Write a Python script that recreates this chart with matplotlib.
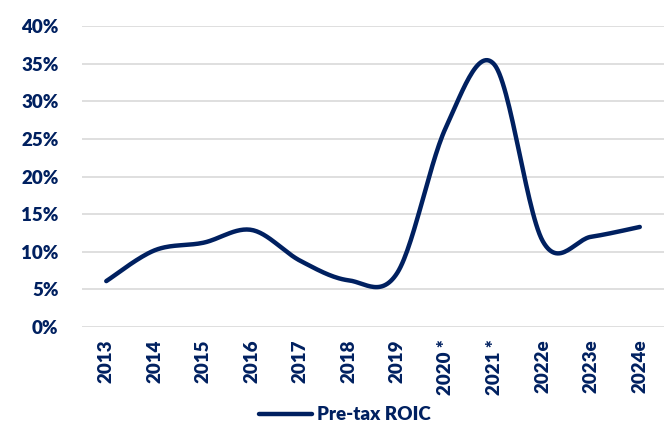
import matplotlib.pyplot as plt
import numpy as np

# Pre-tax ROIC by year (%)
years = ["2013", "2014", "2015", "2016", "2017", "2018", "2019",
         "2020 *", "2021 *", "2022e", "2023e", "2024e"]
roic = [6.1, 10.2, 11.2, 12.9, 8.8, 6.2, 7.2, 26.5, 34.9, 11.4, 12.0, 13.3]

navy = "#002060"
plt.rcParams["font.family"] = ["Lato", "DejaVu Sans"]
plt.rcParams["font.weight"] = "heavy"


def smooth(xs, ys, sx, sy, n=30):
    # Excel-style smoothed line: Bezier segments through the points,
    # control points from neighbours (Catmull-Rom), computed in pixel space
    P = np.column_stack([np.asarray(xs) * sx, np.asarray(ys) * sy])
    P = np.vstack([P[0], P, P[-1]])
    out = []
    t = np.linspace(0, 1, n)[:, None]
    for i in range(1, len(P) - 2):
        p0, p1, p2, p3 = P[i - 1], P[i], P[i + 1], P[i + 2]
        c1 = p1 + (p2 - p0) / 6
        c2 = p2 - (p3 - p1) / 6
        seg = ((1 - t) ** 3) * p1 + 3 * ((1 - t) ** 2) * t * c1 \
            + 3 * (1 - t) * t ** 2 * c2 + t ** 3 * p2
        out.append(seg if i == 1 else seg[1:])
    out = np.vstack(out)
    return out[:, 0] / sx, out[:, 1] / sy


fig = plt.figure(figsize=(6.69, 4.28), dpi=100)
ax = fig.add_axes([0.1226, 0.236, 0.87, 0.703])

x = np.arange(len(years))
sx_, sy_ = smooth(x, roic, 48.5, 7.53)
line, = ax.plot(sx_, np.array(sy_) / 100, color=navy, lw=3.2,
                solid_capstyle="round", label="Pre-tax ROIC")

ax.set_xlim(-0.5, len(years) - 0.5)
ax.set_ylim(0, 0.40)
yt = np.arange(0, 0.41, 0.05)
ax.set_yticks(yt)
ax.set_yticklabels([f"{int(round(v * 100))}%" for v in yt],
                   fontsize=13.5, color=navy, fontweight="heavy")
ax.set_xticks(x)
ax.set_xticklabels(years, rotation=90, fontsize=13.5, color=navy, fontweight="heavy")
ax.tick_params(axis="y", length=0, pad=17)
ax.tick_params(axis="x", length=0, pad=9)
ax.yaxis.grid(True, color="#d9d9d9", lw=1.2)
ax.set_axisbelow(True)
for s in ax.spines.values():
    s.set_visible(False)

fig.legend(handles=[line], loc="center", bbox_to_anchor=(345 / 669, 1 - 415 / 428),
           frameon=False, handlelength=2.8, handletextpad=0.3,
           labelcolor=navy, prop={"weight": "heavy", "size": 13.5})

fig.savefig("out.png", dpi=100)
